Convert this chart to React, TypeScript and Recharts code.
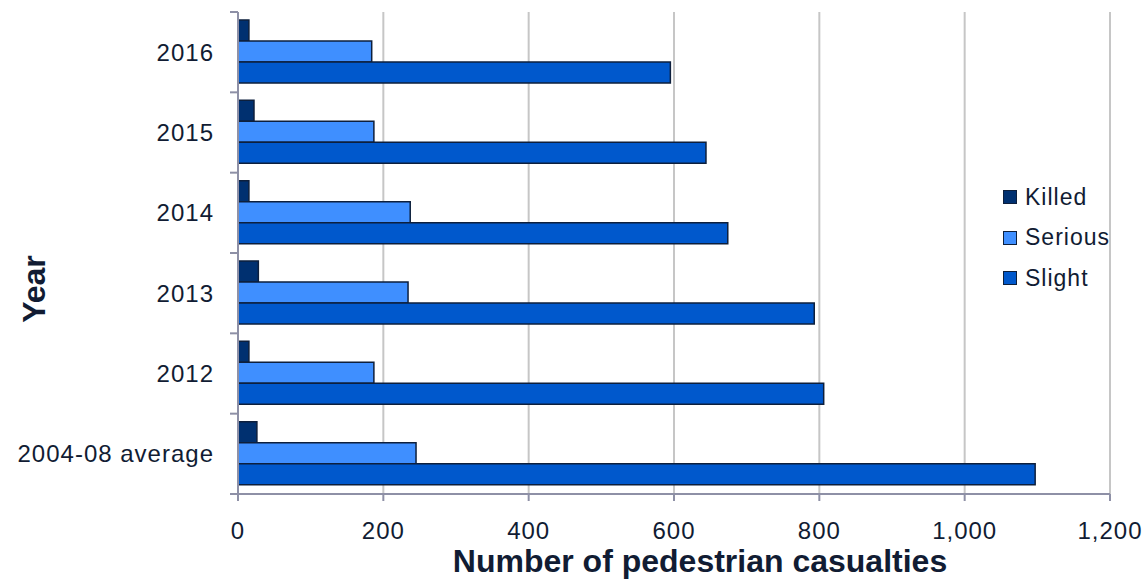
import { BarChart, Bar, XAxis, YAxis, CartesianGrid, Legend, Label } from "recharts";

const YEARS = ["2016", "2015", "2014", "2013", "2012", "2004-08 average"];
const KILLED = [15, 22, 15, 28, 15, 26];
const SERIOUS = [184, 187, 237, 234, 187, 245];
const SLIGHT = [595, 644, 674, 793, 806, 1097];
const X_TICKS = [0, 200, 400, 600, 800, 1000, 1200];

const WIDTH = 1147;
const HEIGHT = 580;
const MARGIN = { top: 12, right: 37, bottom: 0, left: 0 };
const Y_AXIS_WIDTH = 238;
const X_AXIS_HEIGHT = 86;
const BAND = (HEIGHT - MARGIN.top - X_AXIS_HEIGHT) / YEARS.length;

const FONT = "'Liberation Sans', Arial, sans-serif";
const TEXT = "#111c33";
const AXIS = "#8e90a6";
const GRID = "#c6c6c6";
const OUTLINE = "#0d1f3c";

const data = YEARS.map((year, i) => ({
  year,
  killed: KILLED[i],
  serious: SERIOUS[i],
  slight: SLIGHT[i],
}));

// category label plus the tick marks that sit between categories
const YearTick = (props: any) => {
  const { y, payload, index } = props;
  const axisX = MARGIN.left + Y_AXIS_WIDTH;
  const half = BAND / 2;
  return (
    <g>
      <line x1={axisX - 8} x2={axisX} y1={y - half} y2={y - half} stroke={AXIS} strokeWidth={2} />
      {index === YEARS.length - 1 && (
        <line x1={axisX - 8} x2={axisX} y1={y + half} y2={y + half} stroke={AXIS} strokeWidth={2} />
      )}
      <text
        x={axisX - 24}
        y={y}
        dy="0.36em"
        textAnchor="end"
        fontSize={24}
        letterSpacing={1}
        fill={TEXT}
        fontFamily={FONT}
      >
        {payload.value}
      </text>
    </g>
  );
};

const YearTitle = (props: any) => {
  const { viewBox } = props;
  const x = viewBox.x + 45;
  const y = viewBox.y + viewBox.height / 2 + 36;
  return (
    <text
      x={x}
      y={y}
      transform={`rotate(-90 ${x} ${y})`}
      textAnchor="middle"
      fontSize={32}
      fontWeight="bold"
      fill={TEXT}
      fontFamily={FONT}
    >
      Year
    </text>
  );
};

const CountTitle = (props: any) => {
  const { viewBox } = props;
  return (
    <text
      x={viewBox.x + viewBox.width / 2 + 26}
      y={HEIGHT - 8}
      textAnchor="middle"
      fontSize={32}
      fontWeight="bold"
      fill={TEXT}
      fontFamily={FONT}
    >
      Number of pedestrian casualties
    </text>
  );
};

const LegendList = (props: any) => {
  const { payload = [] } = props;
  return (
    <ul style={{ listStyle: "none", margin: 0, padding: 0 }}>
      {payload.map((entry: any) => (
        <li
          key={entry.value}
          style={{
            display: "flex",
            alignItems: "center",
            height: 40.5,
            fontSize: 23,
            letterSpacing: 1,
            color: TEXT,
            fontFamily: FONT,
          }}
        >
          <span
            style={{
              display: "inline-block",
              boxSizing: "border-box",
              width: 14,
              height: 14,
              background: entry.color,
              border: `1.5px solid ${OUTLINE}`,
              marginRight: 8,
            }}
          />
          {entry.value}
        </li>
      ))}
    </ul>
  );
};

export default function App() {
  return (
    <div style={{ width: WIDTH, height: HEIGHT, background: "#fff", fontFamily: FONT }}>
      <style>{"body{margin:0}"}</style>
      <BarChart
        width={WIDTH}
        height={HEIGHT}
        data={data}
        layout="vertical"
        margin={MARGIN}
        barCategoryGap={8}
        barGap={0}
      >
        <CartesianGrid horizontal={false} stroke={GRID} strokeWidth={2} />
        <XAxis
          type="number"
          domain={[0, 1200]}
          ticks={X_TICKS}
          interval={0}
          height={X_AXIS_HEIGHT}
          tickSize={7}
          tickMargin={21}
          axisLine={{ stroke: AXIS, strokeWidth: 2 }}
          tickLine={{ stroke: AXIS, strokeWidth: 2 }}
          tick={{ fontSize: 24, fill: TEXT, letterSpacing: 1, fontFamily: FONT }}
          tickFormatter={(v: number) => v.toLocaleString("en-US")}
        >
          <Label content={CountTitle} />
        </XAxis>
        <YAxis
          type="category"
          dataKey="year"
          width={Y_AXIS_WIDTH}
          interval={0}
          tickLine={false}
          axisLine={{ stroke: AXIS, strokeWidth: 2 }}
          tick={YearTick}
        >
          <Label content={YearTitle} />
        </YAxis>
        <Legend
          layout="vertical"
          align="center"
          verticalAlign="middle"
          wrapperStyle={{ left: 1003, top: 177, width: 130 }}
          content={LegendList}
        />
        <Bar dataKey="killed" name="Killed" fill="#003070" stroke={OUTLINE} strokeWidth={1.5} isAnimationActive={false} />
        <Bar dataKey="serious" name="Serious" fill="#3f8fff" stroke={OUTLINE} strokeWidth={1.5} isAnimationActive={false} />
        <Bar dataKey="slight" name="Slight" fill="#0058cc" stroke={OUTLINE} strokeWidth={1.5} isAnimationActive={false} />
      </BarChart>
    </div>
  );
}
